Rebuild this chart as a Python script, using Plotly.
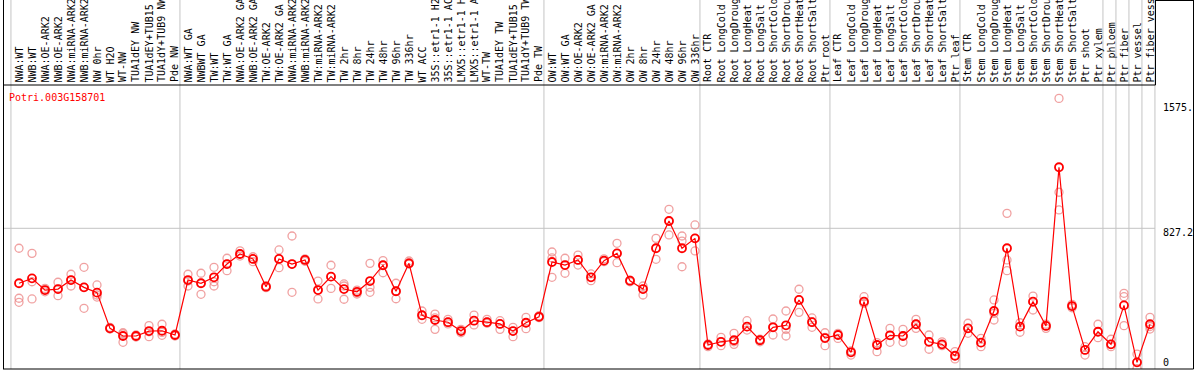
import plotly.graph_objects as go

gene = "Potri.003G158701"

labels = [
    "NWA:WT", "NWB:WT", "NWA:OE-ARK2", "NWB:OE-ARK2", "NWA:miRNA-ARK2", "NWB:miRNA-ARK2",
    "NW 0hr", "WT H2O", "WT-NW", "TUA1dEY NW", "TUA1dEY+TUB15", "TUA1dY+TUB9 NW", "Pde NW",
    "NWA:WT GA", "NWBWT GA", "TW:WT", "TW:WT GA", "NWA:OE-ARK2 GA", "NWB:OE-ARK2 GA",
    "TW:OE-ARK2", "TW:OE-ARK2 GA", "NWA:miRNA-ARK2", "NWB:miRNA-ARK2", "TW:miRNA-ARK2",
    "TW:miRNA-ARK2", "TW 2hr", "TW 8hr", "TW 24hr", "TW 48hr", "TW 96hr", "TW 336hr",
    "WT ACC", "35S::etr1-1 H2", "35S::etr1-1 AC", "LMX5::etr1-1 H", "LMX5::etr1-1 A",
    "WT-TW", "TUA1dEY TW", "TUA1dEY+TUB15", "TUA1dY+TUB9 TW", "Pde TW",
    "OW:WT", "OW:WT GA", "OW:OE-ARK2", "OW:OE-ARK2 GA", "OW:miRNA-ARK2", "OW:miRNA-ARK2",
    "OW 2hr", "OW 8hr", "OW 24hr", "OW 48hr", "OW 96hr", "OW 336hr",
    "Root CTR", "Root LongCold", "Root LongDroug", "Root LongHeat", "Root LongSalt",
    "Root ShortCold", "Root ShortDrou", "Root ShortHeat", "Root ShortSalt", "Ptr root",
    "Leaf CTR", "Leaf LongCold", "Leaf LongDroug", "Leaf LongHeat", "Leaf LongSalt",
    "Leaf ShortCold", "Leaf ShortDrou", "Leaf ShortHeat", "Leaf ShortSalt", "Ptr leaf",
    "Stem CTR", "Stem LongCold", "Stem LongDroug", "Stem LongHeat", "Stem LongSalt",
    "Stem ShortCold", "Stem ShortDrou", "Stem ShortHeat", "Stem ShortSalt",
    "Ptr shoot", "Ptr xylem", "Ptr phloem", "Ptr fiber", "Ptr vessel", "Ptr fiber vess",
]

means = [
    504, 533, 464, 470, 523, 480, 449, 239, 194, 194, 223, 225, 200,
    523, 504, 539, 617, 676, 647, 484, 647, 617, 641, 464, 543, 470, 454, 517, 610, 457, 621,
    316, 288, 275, 223, 284, 275, 265, 223, 272, 307,
    629, 611, 641, 539, 637, 680, 519, 470, 710, 870, 710, 768,
    141, 160, 169, 249, 169, 245, 257, 406, 275, 182,
    200, 98, 396, 141, 198, 194, 263, 160, 145, 78,
    239, 155, 341, 710, 249, 396, 253, 1186, 370, 112, 219,
    145, 374, 39, 263,
]

rep1 = [
    710, 680, 474, 510, 557, 598, 494, 245, 213, 200, 255, 263, 206,
    557, 563, 598, 651, 695, 660, 490, 700, 782, 648, 517, 610, 500, 464, 621, 637, 504, 635,
    341, 323, 292, 233, 317, 292, 284, 245, 304, 313,
    688, 651, 670, 559, 648, 739, 523, 488, 768, 939, 782, 847,
    147, 186, 210, 284, 175, 294, 341, 469, 300, 213,
    210, 106, 425, 155, 239, 233, 292, 200, 160, 102,
    269, 180, 406, 915, 272, 429, 263, 1591, 380, 131, 263,
    175, 445, 88, 304,
]

rep2 = [
    416, 513, 464, 470, 523, 480, 435, 235, 206, 194, 219, 215, 200,
    517, 504, 513, 617, 676, 647, 484, 647, 617, 641, 464, 543, 488, 449, 480, 610, 457, 625,
    316, 300, 275, 223, 284, 275, 265, 223, 272, 307,
    653, 611, 641, 539, 637, 680, 519, 470, 710, 870, 752, 768,
    141, 160, 160, 249, 169, 245, 233, 406, 278, 186,
    200, 98, 396, 141, 198, 194, 263, 160, 145, 78,
    239, 155, 327, 641, 249, 396, 253, 1039, 370, 112, 219,
    145, 425, 39, 250,
]

rep3 = [
    392, 412, 454, 431, 488, 357, 423, 239, 157, 188, 190, 198, 194,
    488, 439, 488, 578, 664, 631, 478, 596, 451, 633, 412, 474, 410, 441, 451, 566, 413, 617,
    292, 233, 265, 213, 259, 269, 233, 190, 237, 302,
    539, 563, 611, 519, 631, 625, 513, 435, 645, 788, 601, 694,
    131, 137, 145, 229, 160, 200, 194, 333, 245, 137,
    180, 82, 386, 102, 157, 157, 239, 116, 137, 59,
    210, 131, 288, 578, 216, 347, 239, 935, 360, 82, 184,
    131, 255, 2, 235,
]

# index of the last sample in each group (group separators drawn after them)
group_ends = [12, 40, 52, 62, 72, 83, 84, 85, 86, 87]
axis_labels = ["1575.", "827.2", "0"]
axis_values = [1575, 827.2, 0]

W, H = 1194, 370
TOP, BOT = 85, 369           # plot area pixel rows
PX_PER_UNIT = 140.7 / 827.2  # vertical scale
X0, DX = 19, 13              # pixel of first sample, pixel step

idx = list(range(len(labels)))
mono = "DejaVu Sans Mono"

fig = go.Figure()
rep_color = "rgba(235,130,130,0.75)"
for reps in (rep1, rep2, rep3):
    fig.add_trace(go.Scatter(
        x=idx, y=reps, mode="markers",
        marker=dict(symbol="circle-open", size=8, color=rep_color,
                    line=dict(width=1.3, color=rep_color)),
        hoverinfo="skip", showlegend=False))
fig.add_trace(go.Scatter(
    x=idx, y=means, mode="lines+markers",
    line=dict(color="#ff0000", width=1.2),
    marker=dict(symbol="circle-open", size=8, color="#ff0000",
                line=dict(width=1.8, color="#ff0000")),
    text=labels, showlegend=False))

def py(p):  # pixel row -> paper y
    return (BOT - p) / (BOT - TOP)

def px(p):  # pixel col -> paper x
    return p / W

shapes = []
gray = "#c4c4c4"
# left edge gray line and group separators
for b in [-0.62] + [g + 0.38 for g in group_ends]:
    shapes.append(dict(type="line", xref="x", yref="paper", x0=b, x1=b,
                       y0=0, y1=py(0), line=dict(color=gray, width=1), layer="below"))
# horizontal grid line at the middle axis value
shapes.append(dict(type="line", xref="paper", yref="y", x0=px(3), x1=px(1155),
                   y0=axis_values[1], y1=axis_values[1],
                   line=dict(color=gray, width=1), layer="below"))
blk = dict(color="black", width=1)
shapes += [
    dict(type="line", xref="paper", yref="paper", x0=px(3.5), x1=px(3.5), y0=py(BOT), y1=py(0), line=blk),
    dict(type="line", xref="paper", yref="paper", x0=px(3), x1=px(1155.5), y0=py(85), y1=py(85), line=blk),
    dict(type="line", xref="paper", yref="paper", x0=px(3), x1=px(1193.5), y0=py(369), y1=py(369), line=blk),
    dict(type="line", xref="paper", yref="paper", x0=px(1155.5), x1=px(1155.5), y0=py(85), y1=py(0), line=blk),
    dict(type="line", xref="paper", yref="paper", x0=px(1155.5), x1=px(1193.5), y0=py(0.5), y1=py(0.5), line=blk),
    dict(type="line", xref="paper", yref="paper", x0=px(1193.5), x1=px(1193.5), y0=py(0), y1=py(369), line=blk),
]

annotations = []
for i, lab in enumerate(labels):
    annotations.append(dict(x=i, xref="x", y=py(84.5), yref="paper", text=lab,
                            textangle=-90, xanchor="center", yanchor="bottom",
                            showarrow=False, font=dict(family=mono, size=10, color="black")))
annotations.append(dict(x=px(7), y=py(97), xref="paper", yref="paper", text=gene,
                        xanchor="left", yanchor="middle", showarrow=False,
                        font=dict(family=mono, size=10, color="#ff0000")))
shifts = [-6.4, -4.2, 6.5]
for lab, v, s in zip(axis_labels, axis_values, shifts):
    annotations.append(dict(x=px(1161), xref="paper", y=v, yref="y", yshift=s, text=lab,
                            xanchor="left", yanchor="middle", showarrow=False,
                            font=dict(family=mono, size=10, color="black")))

fig.update_layout(
    width=W, height=H,
    margin=dict(l=0, r=0, t=TOP, b=H - BOT),
    paper_bgcolor="white", plot_bgcolor="white",
    xaxis=dict(range=[(0 - X0) / DX, (W - X0) / DX], visible=False, fixedrange=True),
    yaxis=dict(range=[0, (BOT - TOP) / PX_PER_UNIT], visible=False, fixedrange=True),
    shapes=shapes, annotations=annotations,
)

fig.write_html("out.html", config={"displayModeBar": False},
               post_script="document.body.style.margin='0';document.body.style.overflow='hidden';")
